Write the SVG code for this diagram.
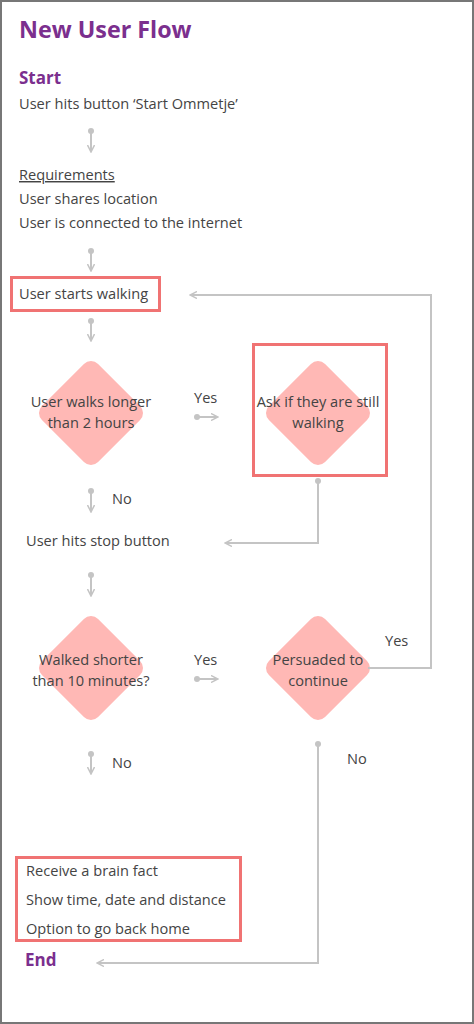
<svg xmlns="http://www.w3.org/2000/svg" width="474" height="1024" viewBox="0 0 474 1024">
<style>
text{font-family:"Open Sans","Liberation Sans",sans-serif;fill:#444;font-size:14.6px}
.h{fill:#7b2f8e;font-weight:bold}
.c{text-anchor:middle}
.box{fill:none;stroke:#f07373;stroke-width:3}
.dia{fill:#ffb8b5}
.ln{fill:none;stroke:#c4c4c4;stroke-width:2}
.dot{fill:#c4c4c4}
</style>
<defs>
<marker id="ah" markerWidth="8" markerHeight="8" refX="6" refY="4" orient="auto" markerUnits="userSpaceOnUse">
<path d="M0,0.5 L7,4 L0,7.5" fill="none" stroke="#c4c4c4" stroke-width="1.5"/>
</marker>
<rect id="d" x="-39.7" y="-39.7" width="79.4" height="79.4" rx="10" transform="rotate(45)"/>
</defs>
<rect x="1" y="1" width="472" height="1022" fill="#fff" stroke="#777" stroke-width="2"/>
<g id="title"><text class="h" x="19" y="38" style="font-size:23.3px">New User Flow</text></g>
<g id="start">
<text class="h" x="19" y="84" style="font-size:17px">Start</text>
<text x="19" y="109">User hits button ‘Start Ommetje’</text>
</g>
<g id="requirements">
<text x="19" y="180" text-decoration="underline">Requirements</text>
<text x="19" y="204">User shares location</text>
<text x="19" y="228">User is connected to the internet</text>
</g>
<g id="walking">
<rect class="box" x="11.5" y="277.5" width="148" height="33"/>
<text x="19" y="299">User starts walking</text>
</g>
<g id="longer">
<use href="#d" class="dia" transform="translate(91,413)"/>
<text class="c" x="91" y="407">User walks longer</text>
<text class="c" x="91" y="428">than 2 hours</text>
</g>
<g id="ask">
<rect class="box" x="253.5" y="344.5" width="133" height="131"/>
<use href="#d" class="dia" transform="translate(318,413)"/>
<text class="c" x="318" y="407">Ask if they are still</text>
<text class="c" x="318" y="428">walking</text>
</g>
<g id="stop"><text x="26" y="546">User hits stop button</text></g>
<g id="shorter">
<use href="#d" class="dia" transform="translate(91,668)"/>
<text class="c" x="91" y="665">Walked shorter</text>
<text class="c" x="91" y="686">than 10 minutes?</text>
</g>
<g id="persuaded">
<use href="#d" class="dia" transform="translate(318,668)"/>
<text class="c" x="318" y="665">Persuaded to</text>
<text class="c" x="318" y="686">continue</text>
</g>
<g id="result">
<rect class="box" x="16.5" y="857.5" width="224" height="83"/>
<text x="26" y="876">Receive a brain fact</text>
<text x="26" y="905">Show time, date and distance</text>
<text x="26" y="934">Option to go back home</text>
</g>
<g id="end"><text class="h" x="25" y="966" style="font-size:17px">End</text></g>
<g id="connectors">
<circle class="dot" cx="91" cy="131" r="3"/><path class="ln" d="M91,131 V151" marker-end="url(#ah)"/>
<circle class="dot" cx="91" cy="251" r="3"/><path class="ln" d="M91,251 V270" marker-end="url(#ah)"/>
<circle class="dot" cx="91" cy="321" r="3"/><path class="ln" d="M91,321 V340" marker-end="url(#ah)"/>
<circle class="dot" cx="197" cy="417" r="3"/><path class="ln" d="M197,417 H217" marker-end="url(#ah)"/>
<circle class="dot" cx="318" cy="481" r="3"/><path class="ln" d="M318,481 V543 H226" marker-end="url(#ah)"/>
<circle class="dot" cx="91" cy="491" r="3"/><path class="ln" d="M91,491 V511" marker-end="url(#ah)"/>
<circle class="dot" cx="91" cy="575" r="3"/><path class="ln" d="M91,575 V595" marker-end="url(#ah)"/>
<circle class="dot" cx="197" cy="679" r="3"/><path class="ln" d="M197,679 H217" marker-end="url(#ah)"/>
<path class="ln" d="M368,668 H431 V295 H191" marker-end="url(#ah)"/>
<circle class="dot" cx="91" cy="754" r="3"/><path class="ln" d="M91,754 V773" marker-end="url(#ah)"/>
<circle class="dot" cx="318" cy="744" r="3"/><path class="ln" d="M318,744 V963 H98" marker-end="url(#ah)"/>
<text x="194" y="403">Yes</text>
<text x="112" y="504">No</text>
<text x="194" y="665">Yes</text>
<text x="385" y="646">Yes</text>
<text x="112" y="768">No</text>
<text x="347" y="764">No</text>
</g>
</svg>
